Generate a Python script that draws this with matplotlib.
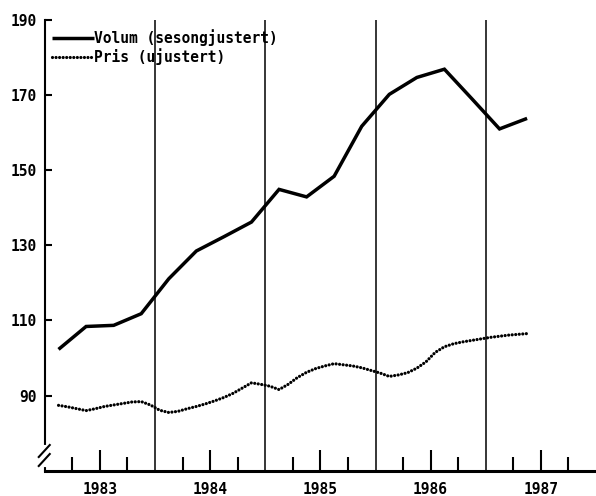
import numpy as np
import matplotlib
matplotlib.use("Agg")
import matplotlib.pyplot as plt

# ---------------- data ----------------
# Volume (seasonally adjusted), quarterly, starting 1983 Q1
vol_start_year = 1983
vol_start_quarter = 1
volum = [102.3, 108.4, 108.7, 111.8,
         121.1, 128.5, 132.3, 136.2,
         144.9, 142.9, 148.4, 161.7,
         170.2, 174.7, 176.9, 169.0,
         161.0, 163.8]

# Price (unadjusted), monthly, starting 1983 February
pris_start_year = 1983
pris_start_month = 2
pris = [87.4, 87.0, 86.5, 86.0, 86.5, 87.1, 87.5, 87.9, 88.3, 88.4, 87.5,          # 1983 Feb-Dec
        86.1, 85.5, 85.8, 86.5, 87.1, 87.8, 88.6, 89.5, 90.6, 92.0, 93.4, 93.0,    # 1984
        92.5, 91.6, 93.0, 94.8, 96.2, 97.2, 97.9, 98.5, 98.2, 97.9, 97.4, 96.7,    # 1985
        96.0, 95.1, 95.5, 96.1, 97.3, 99.0, 101.5, 103.0, 103.8, 104.3, 104.7, 105.1,  # 1986
        105.5, 105.8, 106.1, 106.3, 106.5]                                          # 1987 Jan-May

years = [1983, 1984, 1985, 1986, 1987]
year_labels = ["1983", "1984", "1985", "1986", "1987"]
yticks = [90, 110, 130, 150, 170, 190]
legend_labels = ["Volum (sesongjustert)", "Pris (ujustert)"]

# ---------------- positions (decimal years, mid-period) ----------------
q_idx = np.arange(len(volum)) + (vol_start_quarter - 1)
t_vol = vol_start_year + (q_idx + 0.5) / 4.0
m_idx = np.arange(len(pris)) + (pris_start_month - 1)
t_pris = pris_start_year + (m_idx + 0.5) / 12.0

# ---------------- figure ----------------
FONT = "DejaVu Sans Mono"
fig = plt.figure(figsize=(5.96, 4.96), dpi=100)
ax = fig.add_axes([44.75 / 596, 25.3 / 496, 1 - 44.75 / 596, (470.7 - 20) / 496])
ax.set_xlim(years[0], years[-1] + 1)
ax.set_ylim(70, 190)

# vertical year separators
for y in years[1:]:
    ax.axvline(y, color="black", lw=1.1, zorder=1)

l1, = ax.plot(t_vol, volum, color="black", lw=2.5, solid_joinstyle="miter",
              solid_capstyle="butt", zorder=3)
l2, = ax.plot(t_pris, pris, color="black", lw=2.3, linestyle=(0, (0.01, 1.1)),
              dash_capstyle="round", zorder=3)

# spines
for s in ["top", "right"]:
    ax.spines[s].set_visible(False)
ax.spines["left"].set_linewidth(1.5)
ax.spines["bottom"].set_linewidth(2.2)

# y ticks
ax.set_yticks(yticks)
ax.set_yticklabels([str(v) for v in yticks], fontfamily=FONT, fontweight="bold",
                   fontsize=10.5)
ax.tick_params(axis="y", direction="in", length=5, width=1.5, pad=6)

# x ticks: major at mid-year (labelled), minor at quarters
ax.set_xticks([y + 0.5 for y in years])
ax.set_xticklabels(year_labels, fontfamily=FONT, fontweight="bold", fontsize=10.5)
ax.set_xticks([y + f for y in years for f in (0.25, 0.75)], minor=True)
ax.tick_params(axis="x", which="major", direction="in", length=15, width=1.5, pad=8)
ax.tick_params(axis="x", which="minor", direction="in", length=10, width=1.5)

# axis break marks on the left spine
trans = ax.transAxes
h = 450.7
w = 551.25
gap_lo = (470.7 - 465) / h
gap_hi = (470.7 - 447) / h
ax.plot([0, 0], [gap_lo, gap_hi], color="white", lw=3, transform=trans,
        clip_on=False, zorder=5)
for yb in (gap_lo - 1 / h, gap_hi - 10 / h):
    ax.plot([-6 / w, 5 / w], [yb, yb + 12 / h], color="black", lw=1.5,
            transform=trans, clip_on=False, zorder=6)

# legend
leg = ax.legend([l1, l2], legend_labels, loc="upper left",
                bbox_to_anchor=(7 / w, 1 - 9 / h), frameon=False,
                borderpad=0, borderaxespad=0, handlelength=2.9, handletextpad=0.0,
                labelspacing=0.15,
                prop={"family": FONT, "weight": "bold", "size": 10.5})

fig.savefig("out.png", dpi=100)
